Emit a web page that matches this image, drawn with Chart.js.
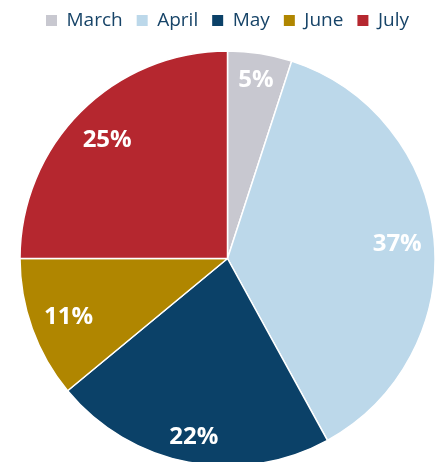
<!DOCTYPE html>
<html lang="en">
<head>
    <meta charset="UTF-8">
    <title>Monthly Share</title>
    <script src="https://cdn.jsdelivr.net/npm/chart.js"></script>
    <style>
        html, body {
            margin: 0;
            padding: 0;
            background: #ffffff;
            overflow: hidden;
        }
        #wrap {
            position: absolute;
            left: 0;
            top: 0;
            width: 438px;
            height: 477px;
        }
    </style>
</head>
<body>
    <div id="wrap"><canvas id="pieChart"></canvas></div>
    <script>
        const months = ['March', 'April', 'May', 'June', 'July'];
        const shares = [5, 37, 22, 11, 25];
        const sliceColors = ['#c8c8d0', '#bcd8ea', '#0b4168', '#b08600', '#b5272f'];

        const R = 207.5;

        // percent labels placed just inside the outer edge, like Excel's "inside end"
        const insideEndLabels = {
            id: 'insideEndLabels',
            afterDatasetsDraw(chart) {
                const ctx = chart.ctx;
                const meta = chart.getDatasetMeta(0);
                const total = shares.reduce((a, b) => a + b, 0);
                ctx.save();
                ctx.font = 'bold 24px "Open Sans"';
                ctx.fillStyle = '#ffffff';
                ctx.textAlign = 'center';
                ctx.textBaseline = 'alphabetic';
                meta.data.forEach((arc, i) => {
                    const text = Math.round(shares[i] / total * 100) + '%';
                    const mid = (arc.startAngle + arc.endAngle) / 2;
                    const ux = Math.cos(mid), uy = Math.sin(mid);
                    const a = ctx.measureText(text).width / 2 + 4;
                    const b = 14;
                    const T = arc.outerRadius - 7;
                    const k = Math.abs(ux) * a + Math.abs(uy) * b;
                    const d = -k + Math.sqrt(k * k - (a * a + b * b - T * T));
                    const x = arc.x + ux * d;
                    const y = arc.y + uy * d;
                    ctx.fillText(text, x, y + 24 * 0.357);
                });
                ctx.restore();
            }
        };

        const ctx = document.getElementById('pieChart').getContext('2d');
        new Chart(ctx, {
            type: 'pie',
            data: {
                labels: months,
                datasets: [{
                    data: shares,
                    backgroundColor: sliceColors,
                    borderColor: '#ffffff',
                    borderWidth: 1.5
                }]
            },
            options: {
                responsive: true,
                maintainAspectRatio: false,
                animation: false,
                radius: R,
                layout: {
                    padding: { left: 17, right: 0, top: -3, bottom: 0 }
                },
                plugins: {
                    legend: {
                        position: 'top',
                        labels: {
                            boxWidth: 11,
                            boxHeight: 11,
                            padding: 14,
                            color: '#174468',
                            font: { family: '"Open Sans"', size: 19 },
                            generateLabels(chart) {
                                const items = Chart.overrides.pie.plugins.legend.labels.generateLabels(chart);
                                return items.map(item => Object.assign(item, {
                                    strokeStyle: item.fillStyle,
                                    lineWidth: 0
                                }));
                            }
                        }
                    },
                    tooltip: { enabled: false }
                }
            },
            plugins: [insideEndLabels]
        });
    </script>
</body>
</html>
